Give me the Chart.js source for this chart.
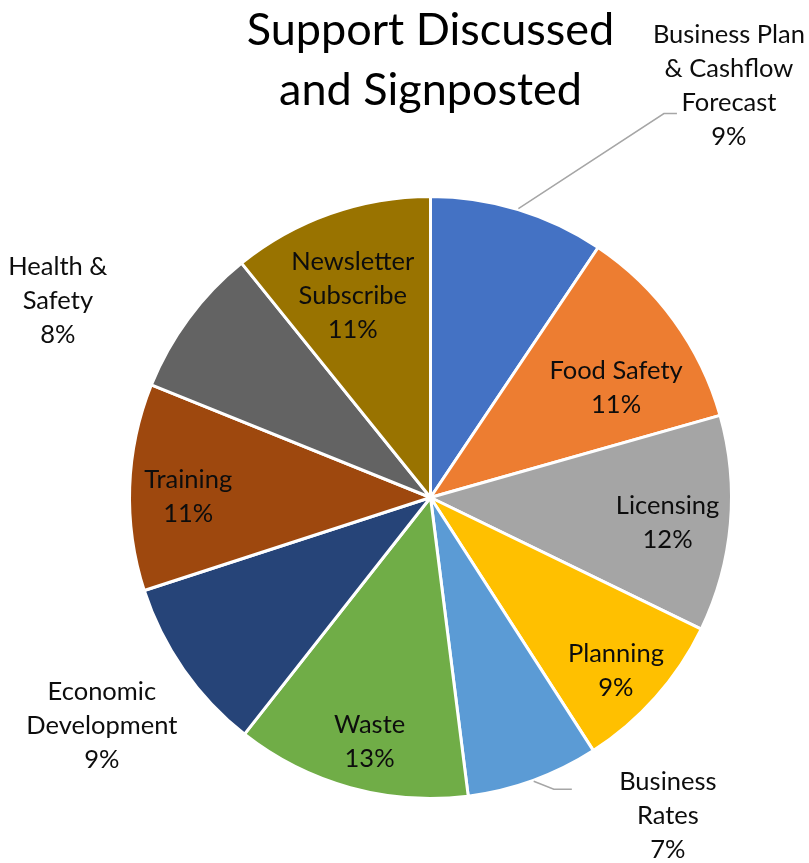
<!DOCTYPE html>
<html>
<head>
<meta charset="utf-8">
<title>Support Discussed and Signposted</title>
<script src="https://cdn.jsdelivr.net/npm/chart.js@4.4.1/dist/chart.umd.min.js"></script>
<style>
  html, body { margin: 0; padding: 0; background: #fff; }
  #wrap { width: 809px; height: 863px; position: relative; }
</style>
</head>
<body>
<div id="wrap"><canvas id="supportChart"></canvas></div>
<script>
'use strict';

// categories (already split into the lines they are printed on)
let categories = [
  ['Business Plan', '& Cashflow', 'Forecast'],
  ['Food Safety'],
  ['Licensing'],
  ['Planning'],
  ['Business', 'Rates'],
  ['Waste'],
  ['Economic', 'Development'],
  ['Training'],
  ['Health &', 'Safety'],
  ['Newsletter', 'Subscribe']
];
// share of enquiries, in percent
let shares = [9.4, 11.2, 11.6, 8.7, 7.1, 12.6, 9.4, 11.1, 8.1, 10.8];
let sliceColors = ['#4472C4', '#ED7D31', '#A5A5A5', '#FFC000', '#5B9BD5',
                   '#70AD47', '#264478', '#9E480E', '#636363', '#997300'];

// where each label sits: r = distance as a fraction of the radius,
// da = nudge of the angle in degrees away from the slice middle
let labelPlace = [
  {r: 1.69, da: 19},
  {r: 0.717, da: 5.3},
  {r: 0.792, da: 1},
  {r: 0.842, da: 1.4},
  {r: 1.32, da: -16.7},
  {r: 0.838, da: -1.5},
  {r: 1.33, da: 0.1},
  {r: 0.805, da: -1.8},
  {r: 1.40, da: -8.7},
  {r: 0.719, da: -1.6}
];
// leader lines: elbow and end point, relative to the label centre
let leaders = {
  0: {elbow: [-65, 28], end: [-52, 28]},
  4: {elbow: [-114, -27], end: [-96, -27]}
};

let labelFont = '25.5px Lato';
let lineGap = 34;

let sliceLabels = {
  id: 'sliceLabels',
  afterDatasetsDraw(chart) {
    let ctx = chart.ctx;
    let meta = chart.getDatasetMeta(0);
    let data = chart.data.datasets[0].data;
    let total = data.reduce((a, b) => a + b, 0);
    ctx.save();
    meta.data.forEach((arc, i) => {
      let p = arc.getProps(['x', 'y', 'startAngle', 'endAngle', 'outerRadius'], true);
      let mid = (p.startAngle + p.endAngle) / 2;
      let a = mid + labelPlace[i].da * Math.PI / 180;
      let cx = p.x + Math.cos(a) * p.outerRadius * labelPlace[i].r;
      let cy = p.y + Math.sin(a) * p.outerRadius * labelPlace[i].r;

      if (leaders[i]) {
        let sx = p.x + Math.cos(mid) * (p.outerRadius + 1);
        let sy = p.y + Math.sin(mid) * (p.outerRadius + 1);
        ctx.beginPath();
        ctx.moveTo(sx, sy);
        ctx.lineTo(cx + leaders[i].elbow[0], cy + leaders[i].elbow[1]);
        ctx.lineTo(cx + leaders[i].end[0], cy + leaders[i].end[1]);
        ctx.strokeStyle = '#A6A6A6';
        ctx.lineWidth = 1.5;
        ctx.stroke();
      }

      let lines = chart.data.labels[i].concat([Math.round(data[i] / total * 100) + '%']);
      ctx.font = labelFont;
      ctx.fillStyle = '#0D0D0D';
      ctx.textAlign = 'center';
      ctx.textBaseline = 'middle';
      let top = cy - (lines.length - 1) * lineGap / 2;
      lines.forEach((t, k) => ctx.fillText(t, cx, top + k * lineGap));
    });
    ctx.restore();
  }
};

function chartRender() {
  let ctx = document.getElementById('supportChart').getContext('2d');
  new Chart(ctx, {
    type: 'pie',
    data: {
      labels: categories,
      datasets: [{
        data: shares,
        backgroundColor: sliceColors,
        borderColor: '#FFFFFF',
        borderWidth: 3
      }]
    },
    options: {
      responsive: true,
      maintainAspectRatio: false,
      animation: false,
      layout: {
        padding: {top: 0, left: 128, right: 76, bottom: 62}
      },
      plugins: {
        legend: {display: false},
        tooltip: {enabled: false},
        title: {
          display: true,
          text: ['Support Discussed', 'and Signposted'],
          color: '#000000',
          font: {family: 'Lato', size: 45, weight: 'normal', lineHeight: '60px'},
          padding: {top: 0, bottom: 74}
        }
      }
    },
    plugins: [sliceLabels]
  });
}

document.fonts.load(labelFont).then(chartRender, chartRender);
</script>
</body>
</html>
